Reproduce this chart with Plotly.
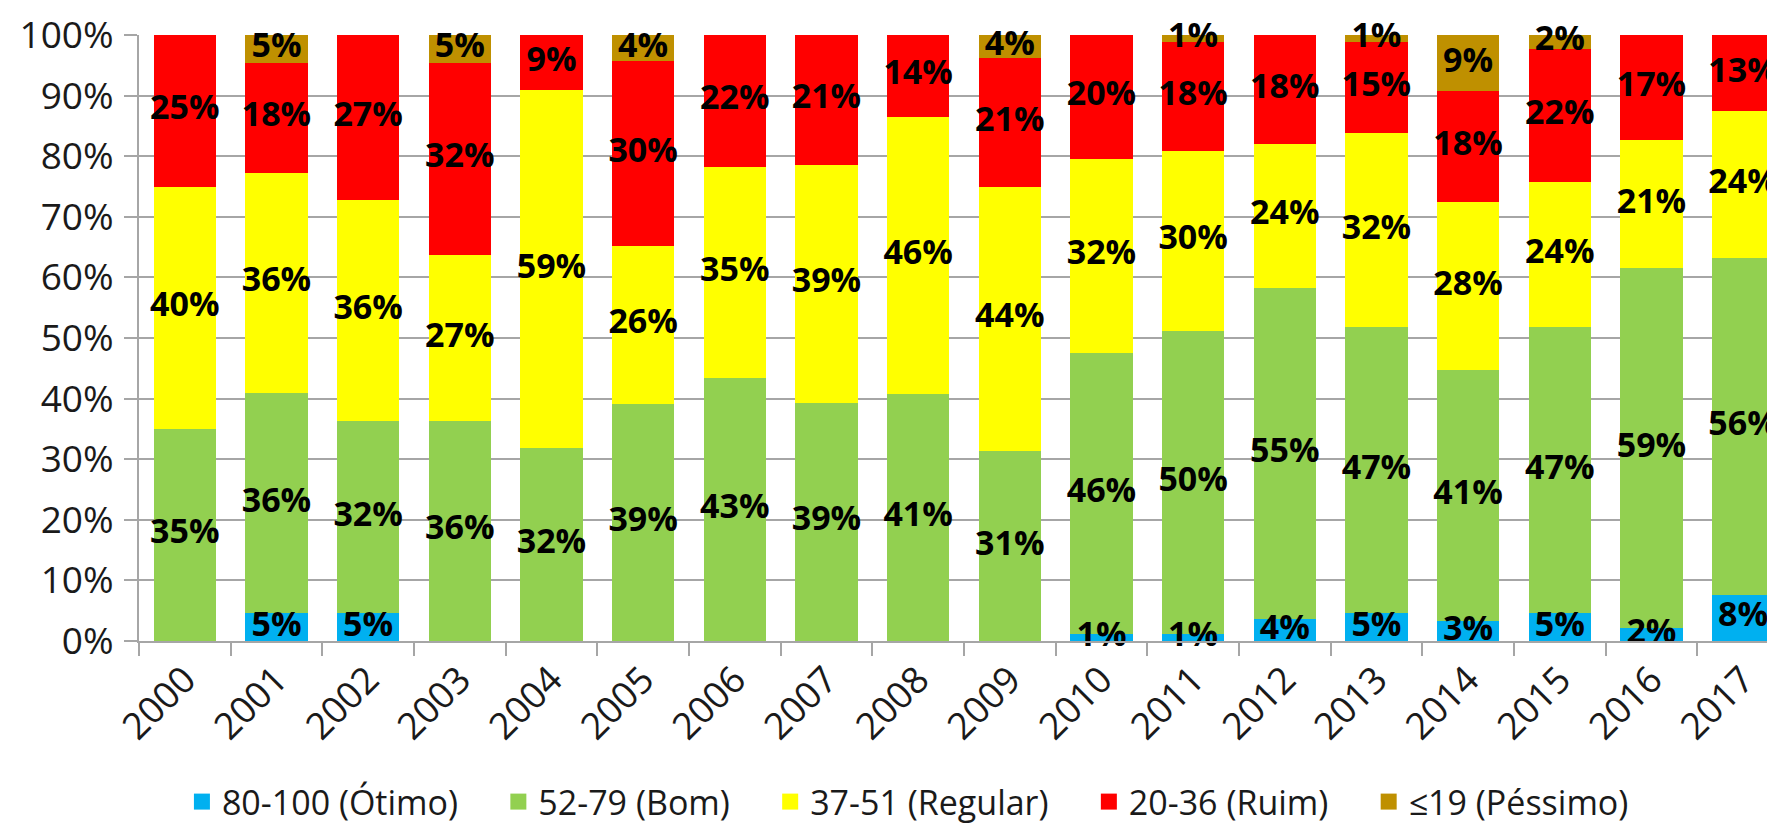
import plotly.graph_objects as go

years = [str(y) for y in range(2000, 2018)]

series_names = ["80-100 (Ótimo)", "52-79 (Bom)", "37-51 (Regular)", "20-36 (Ruim)", "≤19 (Péssimo)"]
colors = ["#00B0F0", "#92D050", "#FFFF00", "#FF0000", "#BF9000"]

otimo = [0, 4.55, 4.55, 0, 0, 0, 0, 0, 0, 0, 1.2, 1.1, 3.6, 4.6, 3.3, 4.6, 2.1, 7.6]
bom = [35, 36.36, 31.82, 36.36, 31.82, 39.13, 43.48, 39.29, 40.7, 31.3, 46.4, 50.1, 54.7, 47.2, 41.4, 47.2, 59.4, 55.6]
regular = [40, 36.36, 36.36, 27.27, 59.09, 26.09, 34.78, 39.29, 45.8, 43.7, 32.0, 29.7, 23.7, 32.0, 27.7, 24.0, 21.1, 24.2]
ruim = [25, 18.18, 27.27, 31.82, 9.09, 30.43, 21.74, 21.43, 13.5, 21.2, 20.4, 18.0, 18.0, 15.1, 18.3, 21.9, 17.4, 12.6]
pessimo = [0, 4.55, 0, 4.55, 0, 4.35, 0, 0, 0, 3.8, 0, 1.1, 0, 1.1, 9.3, 2.3, 0, 0]

series_values = [otimo, bom, regular, ruim, pessimo]

FONT = "Open Sans"
TXT = "#1a1a1a"
GRID = "#A6A6A6"
TICK_SIZE = 37
LABEL_SIZE = 34
LEGEND_PAD = "\u00a0" * 4

fig = go.Figure()
base = [0.0] * len(years)
label_traces = []
for name, vals, col in zip(series_names, series_values, colors):
    fig.add_trace(go.Bar(
        x=years, y=vals, name=name, marker=dict(color=col, line=dict(width=0)),
        showlegend=False, hoverinfo="skip",
    ))
    centers = [b + v / 2 for b, v in zip(base, vals)]
    labels = ["" if v == 0 else f"{int(v + 0.5)}%" for v in vals]
    label_traces.append(go.Scatter(
        x=years, y=centers, mode="text", text=labels, textposition="middle center",
        textfont=dict(family=FONT, size=LABEL_SIZE, color="black", weight="bold"),
        cliponaxis=False, showlegend=False, hoverinfo="skip",
    ))
    base = [b + v for b, v in zip(base, vals)]

for t in label_traces:
    fig.add_trace(t)

for i, (name, col) in enumerate(zip(series_names, colors)):
    fig.add_trace(go.Scatter(
        x=[years[0]], y=[None], mode="markers",
        name=name + (LEGEND_PAD if i < len(series_names) - 1 else ""),
        marker=dict(symbol="square", size=22, color=col),
        showlegend=True, hoverinfo="skip",
    ))

fig.update_layout(
    width=1775, height=823,
    barmode="stack", bargap=0.32,
    plot_bgcolor="white", paper_bgcolor="white",
    margin=dict(l=131, r=0, t=27, b=190, autoexpand=False),
    font=dict(family=FONT, size=TICK_SIZE, color=TXT),
    legend=dict(
        orientation="h", traceorder="normal",
        xref="container", x=0.507, xanchor="center",
        yref="container", y=0.0, yanchor="bottom",
        font=dict(family=FONT, size=34, color=TXT),
        itemwidth=30, bgcolor="rgba(0,0,0,0)",
    ),
)
fig.update_xaxes(
    type="category", range=[-0.5, 17.435], automargin=False,
    showgrid=False, showline=True, linecolor=GRID, linewidth=2,
    ticks="outside", tickson="boundaries", ticklen=13, tickcolor=GRID, tickwidth=2,
    tickangle=-45, tickfont=dict(family=FONT, size=TICK_SIZE, color=TXT),
)
fig.update_yaxes(
    range=[0, 100], dtick=10, ticksuffix="%", automargin=False,
    showgrid=True, gridcolor=GRID, gridwidth=2,
    showline=True, linecolor=GRID, linewidth=2,
    ticks="outside", ticklen=13, tickcolor=GRID, tickwidth=2,
    tickfont=dict(family=FONT, size=TICK_SIZE, color=TXT),
    ticklabelstandoff=3, ticklabeloverflow="allow",
    zeroline=False,
)

fig.write_html("out.html")
